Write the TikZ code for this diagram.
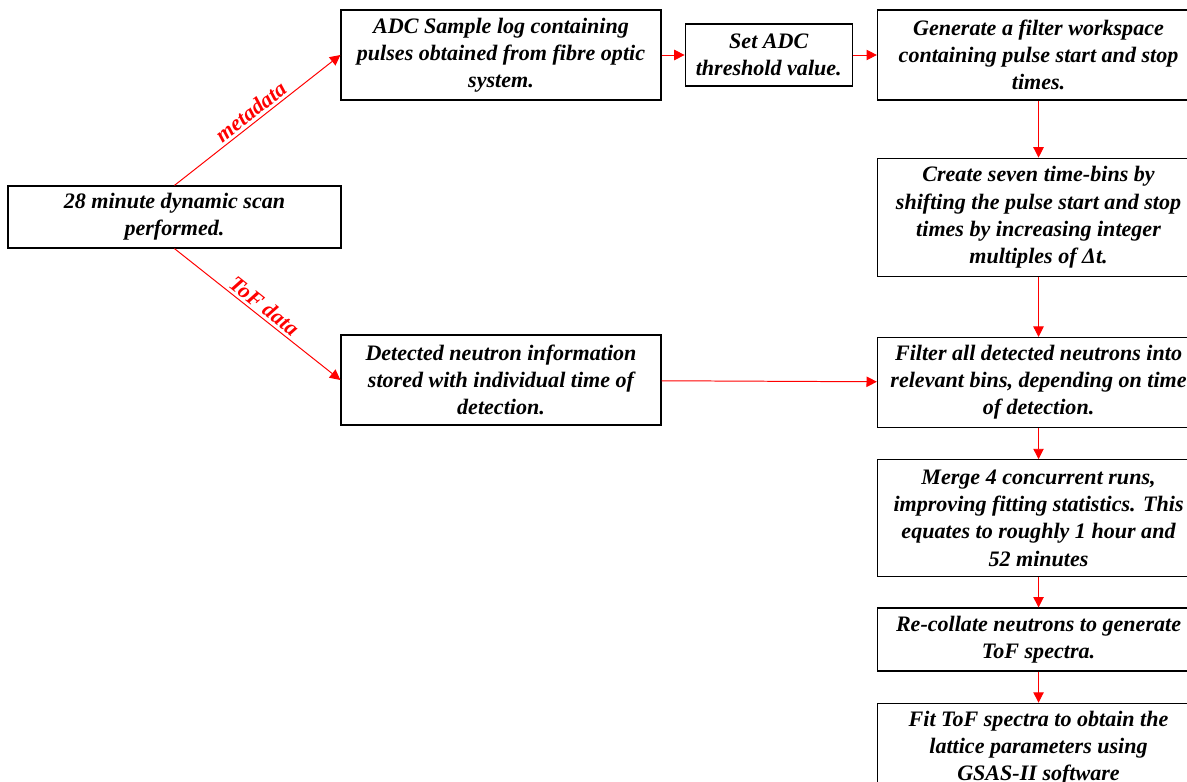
\documentclass[tikz,border=0pt]{standalone}
\usepackage{fontspec}
\setmainfont{Liberation Serif}
\usetikzlibrary{arrows.meta,positioning}

\begin{document}
\begin{tikzpicture}[
box/.style={draw,line width=0.9pt,align=center,inner sep=2pt,font=\fontsize{15.7}{19.3}\selectfont\bfseries\itshape},
arr/.style={-{Triangle[length=2.6mm,width=2.6mm]},red,line width=0.7pt},
lbl/.style={red,sloped,above,inner sep=2pt,font=\fontsize{15.7}{19}\selectfont\bfseries\itshape}]
\useasboundingbox (0,0) rectangle (29.675,-19.55);
% left side: scan and its two outputs
\node[box,minimum width=8.325cm,minimum height=1.55cm](scan) at (4.3625,-5.425){28 minute dynamic scan\\performed.};
\node[box,minimum width=8cm,minimum height=2.25cm](adc) at (12.525,-1.375){ADC Sample log containing\\pulses obtained from fibre optic\\system.};
\node[box,minimum width=8cm,minimum height=2.25cm](detected) at (12.525,-9.5){Detected neutron information\\stored with individual time of\\detection.};
\node[box,minimum width=4.175cm,minimum height=1.55cm,right=0.575cm of adc](thresh){Set ADC\\threshold value.};
% right column
\node[box,minimum width=8.05cm,minimum height=2.25cm,right=0.6cm of thresh](workspace){Generate a filter workspace\\containing pulse start and stop\\times.};
\node[box,minimum width=8.05cm,minimum height=2.95cm,below=1.425cm of workspace](timebins){Create seven time-bins by\\shifting the pulse start and stop\\times by increasing integer\\multiples of Δt.};
\node[box,minimum width=8.05cm,minimum height=2.25cm,below=1.5cm of timebins](sortbins){Filter all detected neutrons into\\relevant bins, depending on time\\of detection.};
\node[box,minimum width=8.05cm,minimum height=2.925cm,below=0.775cm of sortbins](merge){Merge 4 concurrent runs,\\improving fitting statistics. This\\equates to roughly 1 hour and\\52 minutes};
\node[box,minimum width=8.05cm,minimum height=1.575cm,below=0.75cm of merge](recollate){Re-collate neutrons to generate\\ToF spectra.};
\node[box,minimum width=8.05cm,minimum height=2.25cm,below=0.775cm of recollate](fit){Fit ToF spectra to obtain the\\lattice parameters using\\GSAS-II software};
% connectors
\draw[arr](scan.north)--node[lbl]{metadata}(adc.west);
\draw[arr](scan.south)--node[lbl]{ToF data}(detected.west);
\draw[arr](adc)--(thresh);\draw[arr](thresh)--(workspace);
\draw[arr](workspace)--(timebins);\draw[arr](timebins)--(sortbins);
\draw[arr](detected)--(sortbins);
\draw[arr](sortbins)--(merge);\draw[arr](merge)--(recollate);
\draw[arr](recollate)--(fit);
\end{tikzpicture}
\end{document}
